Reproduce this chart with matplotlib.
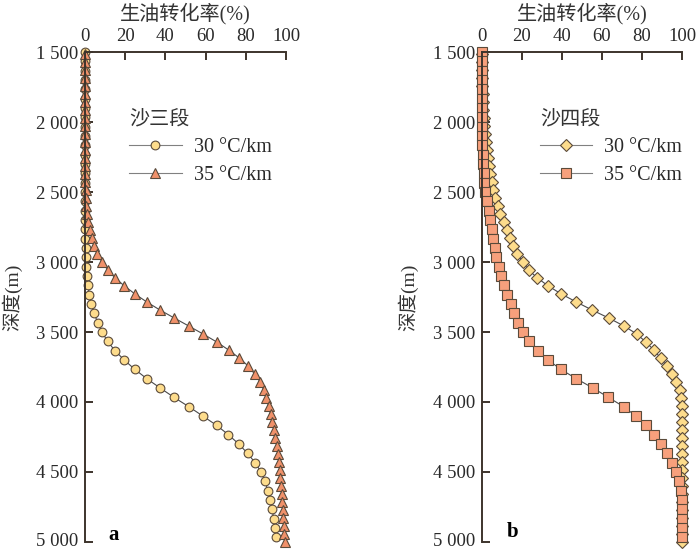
import matplotlib
matplotlib.use("Agg")
import matplotlib.pyplot as plt
import matplotlib.transforms as mtransforms
from matplotlib.ticker import FuncFormatter

plt.rcParams['font.family'] = ['Liberation Serif', 'Noto Sans CJK SC', 'DejaVu Sans']

# ---------------- data ----------------
xticks = [0, 20, 40, 60, 80, 100]
yticks = [1500, 2000, 2500, 3000, 3500, 4000, 4500, 5000]

depth_step67 = [1500, 1567, 1633, 1700, 1767, 1833, 1900, 1967, 2033, 2100,
                2167, 2233, 2300, 2367, 2433, 2500, 2567, 2633, 2700, 2767,
                2833, 2900, 2967, 3033, 3100, 3167, 3233, 3300, 3367, 3433,
                3500, 3567, 3633, 3700, 3767, 3833, 3900, 3967, 4033, 4100,
                4167, 4233, 4300, 4367, 4433, 4500, 4567, 4633, 4700, 4767,
                4833, 4900, 4967]
depth_step57 = [1514, 1571, 1629, 1686, 1743, 1800, 1857, 1914, 1971, 2029,
                2086, 2143, 2200, 2257, 2314, 2371, 2429, 2486, 2543, 2600,
                2657, 2714, 2771, 2829, 2886, 2943, 3000, 3057, 3114, 3171,
                3229, 3286, 3343, 3400, 3457, 3514, 3571, 3629, 3686, 3743,
                3800, 3857, 3914, 3971, 4029, 4086, 4143, 4200, 4257, 4314,
                4371, 4429, 4486, 4543, 4600, 4657, 4714, 4771, 4829, 4886,
                4943, 5000]

# Panel a (沙三段)
a_30_conv = [0, 0, 0, 0, 0, 0, 0, 0, 0, 0,
             0, 0, 0, 0, 0, 0, 0, 0.05, 0.05, 0.1,
             0.2, 0.3, 0.4, 0.6, 0.9, 1.4, 2.2, 3.1, 4.6, 6.3,
             8.5, 11.2, 14.9, 19.5, 24.8, 30.7, 37.4, 44.3, 51.6, 58.6,
             65.5, 71.3, 76.5, 80.9, 84.6, 87.6, 89.6, 90.9, 92.0, 93.0,
             93.9, 94.4, 94.9]
a_35_conv = [0, 0, 0, 0, 0, 0, 0, 0, 0, 0,
             0, 0, 0, 0.05, 0.05, 0.1, 0.2, 0.3, 0.4, 0.6,
             1.0, 1.5, 2.4, 3.4, 4.5, 6.1, 8.5, 11.3, 15.0, 19.6,
             24.9, 30.8, 37.3, 44.4, 51.6, 58.7, 65.5, 71.5, 76.8, 81.2,
             84.4, 87.2, 88.9, 90.2, 91.3, 92.3, 93.2, 94.0, 94.7, 95.4,
             95.9, 96.4, 96.9, 97.2, 97.5, 97.8, 98.2, 98.4, 98.7, 98.9,
             99.1, 99.4]

# Panel b (沙四段)
b_30_conv = [0, 0.1, 0.1, 0.2, 0.3, 0.4, 0.5, 0.7, 0.9, 1.2,
             1.6, 2.0, 2.5, 3.0, 3.6, 4.3, 5.0, 5.8, 6.8, 7.9,
             9.3, 10.9, 12.5, 14.1, 15.8, 17.8, 20.5, 23.4, 27.8, 33.2,
             39.8, 47.3, 55.1, 63.4, 71.0, 77.4, 81.9, 86.0, 89.3, 92.3,
             95.0, 97.2, 98.8, 99.6, 99.9, 100, 100, 100, 100, 100,
             100, 100, 100, 100, 100, 100, 100, 100, 100, 100,
             100, 100]
b_35_conv = [0, 0, 0, 0, 0, 0, 0, 0, 0.1, 0.2,
             0.3, 0.4, 0.7, 1.0, 1.3, 1.8, 2.5, 3.4, 4.3, 5.0,
             5.8, 6.5, 7.3, 8.4, 9.6, 11.0, 12.7, 14.4, 16.0, 18.0,
             20.4, 23.7, 28.0, 33.2, 39.5, 47.2, 55.5, 63.3, 70.8, 77.0,
             82.0, 86.0, 89.3, 92.6, 94.9, 96.9, 98.3, 99.4, 99.8, 100,
             100, 100, 100]

labels = ["30 °C/km", "35 °C/km"]

# ---------------- style ----------------
axis_col = "#3d342c"
line_col = "#4a4a4a"
edge_col = "#5a4a3a"
yellow = "#fddc8c"
orange_tri = "#f0916a"
orange_sq = "#f7a07c"
fs = 13.5
lfs = 14.5

fig = plt.figure(figsize=(7, 5.5), dpi=100)
ax_a = fig.add_axes([85/700, 8/550, 201/700, 490/550])
ax_b = fig.add_axes([481.7/700, 8/550, 200.3/700, 490/550])

fmt = FuncFormatter(lambda v, p: f"{int(v):,}".replace(",", " "))


def style_axes(ax):
    ax.set_xlim(0, 100)
    ax.set_ylim(5000, 1500)
    for s in ("right", "bottom"):
        ax.spines[s].set_visible(False)
    for s in ("left", "top"):
        ax.spines[s].set_color(axis_col)
        ax.spines[s].set_linewidth(1.4)
    ax.xaxis.tick_top()
    ax.xaxis.set_label_position("top")
    ax.set_xticks(xticks)
    ax.set_yticks(yticks)
    ax.yaxis.set_major_formatter(fmt)
    ax.tick_params(axis="both", direction="in", length=6, width=1.4,
                   color=axis_col, labelsize=fs, labelcolor="#2a2a2a")
    ax.tick_params(axis="x", pad=5)
    ax.tick_params(axis="y", pad=5)
    ax.set_xlabel("生油转化率(%)", fontsize=14.5, color="#333333",
                  labelpad=6)
    ax.set_ylabel("深度(m)", fontsize=14, color="#333333",
                  labelpad=10)
    ax.set_facecolor("white")


style_axes(ax_a)
style_axes(ax_b)

common = dict(color=line_col, lw=0.8, markeredgecolor=edge_col,
              markeredgewidth=0.8, clip_on=False)

ax_a.plot(a_30_conv, depth_step67, marker="o", ms=6.3, mfc=yellow,
          label=labels[0], **common)
ax_a.plot(a_35_conv, depth_step57, marker="^", ms=6.8, mfc=orange_tri,
          label=labels[1], **common)

ax_b.plot(b_30_conv, depth_step57, marker="D", ms=6.0, mfc=yellow,
          label=labels[0], **common)
ax_b.plot(b_35_conv, depth_step67, marker="s", ms=6.8, mfc=orange_sq,
          label=labels[1], **common)

for ax, title, x0 in ((ax_a, "沙三段", 0.18), (ax_b, "沙四段", 0.25)):
    leg = ax.legend(loc="upper left", bbox_to_anchor=(x0, 0.897),
                    frameon=False, fontsize=lfs, handlelength=2.6,
                    handletextpad=0.6, labelspacing=0.42, borderaxespad=0,
                    title=title)
    leg.get_title().set_fontsize(lfs)
    leg.get_title().set_color("#333333")
    leg._legend_box.align = "left"
    for t in leg.get_texts():
        t.set_color("#2a2a2a")
    for h in leg.get_lines():
        h.set_color("#808080")

ax_a.text(0.14, 0.014, "a", transform=ax_a.transAxes, fontsize=15,
          fontweight="bold", va="center", ha="center")
ax_b.text(0.155, 0.021, "b", transform=ax_b.transAxes, fontsize=15,
          fontweight="bold", va="center", ha="center")

# keep the bottom tick label inside the canvas
fig.canvas.draw()
shift = mtransforms.ScaledTranslation(0, 3 / 100, fig.dpi_scale_trans)
for ax in (ax_a, ax_b):
    lab = ax.get_yticklabels()[-1]
    lab.set_transform(lab.get_transform() + shift)

fig.savefig("out.png", dpi=100, facecolor="white")
